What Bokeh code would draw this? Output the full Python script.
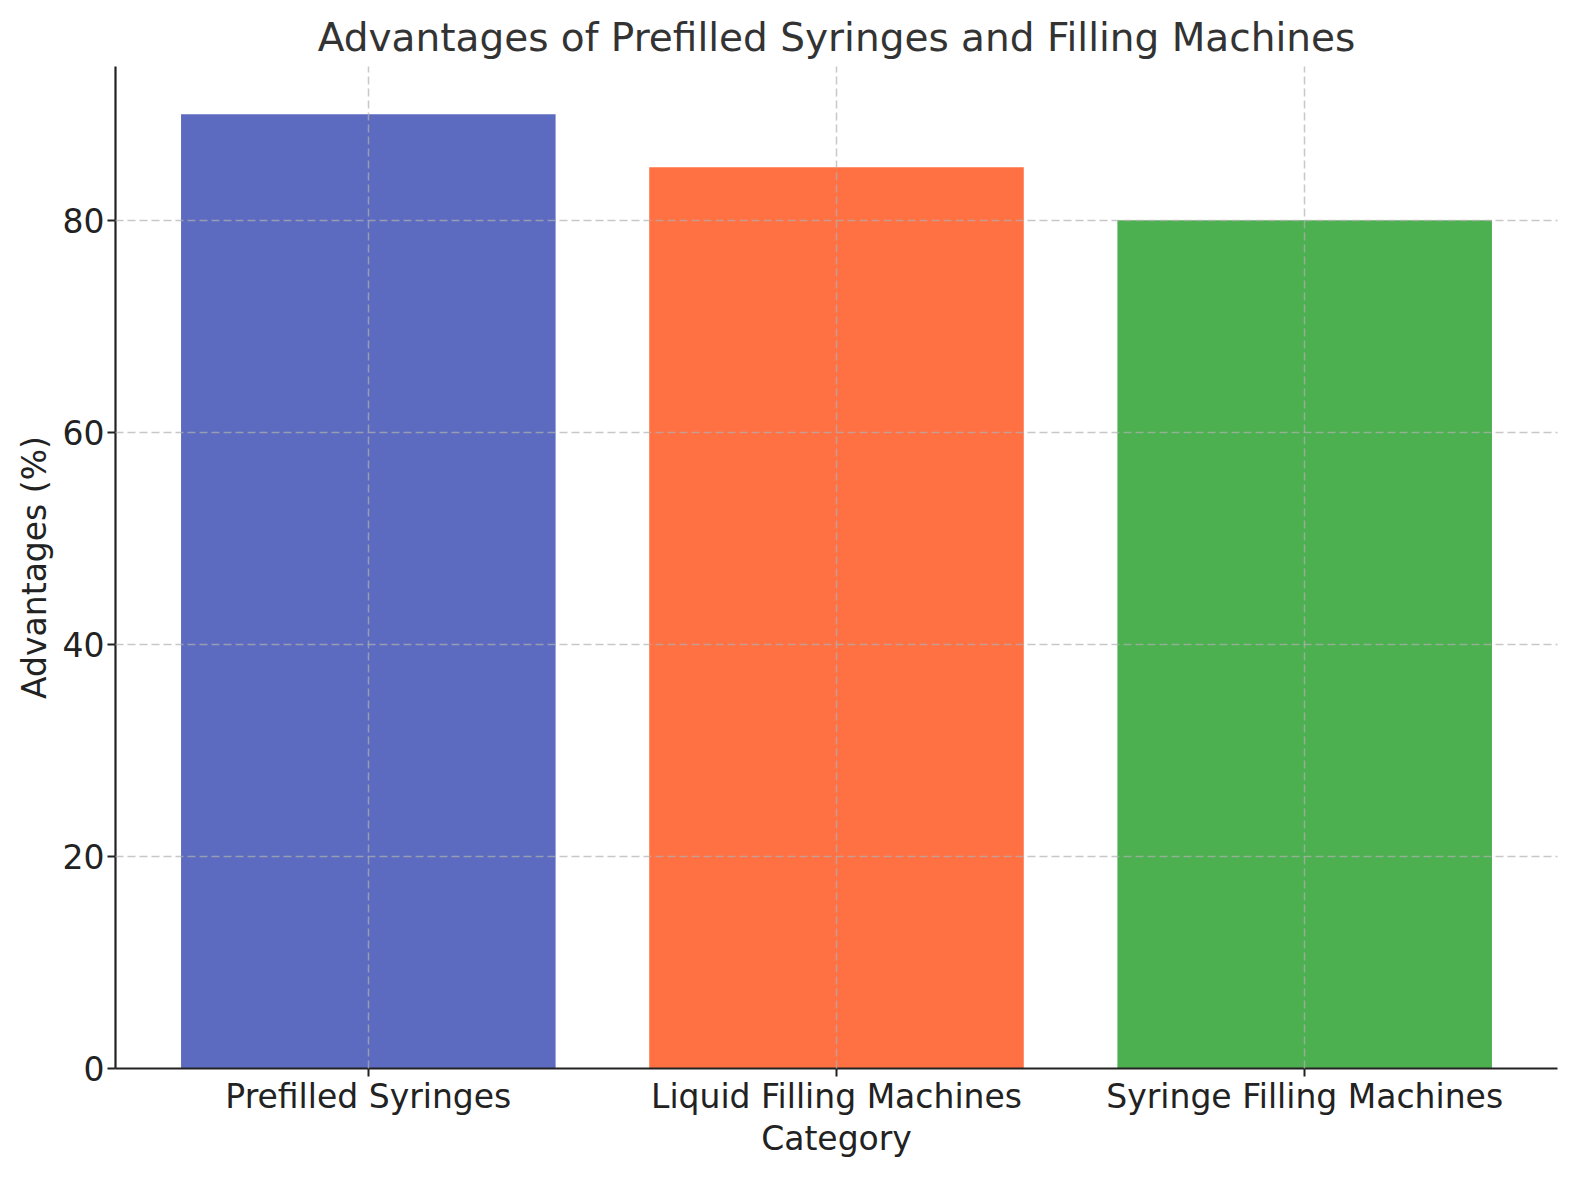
from bokeh.plotting import figure
from bokeh.embed import file_html
from bokeh.resources import INLINE
from bokeh.models import Range1d, FactorRange

categories = ["Prefilled Syringes", "Liquid Filling Machines", "Syringe Filling Machines"]
values = [90, 85, 80]
colors = ["#5c6bc0", "#ff7043", "#4caf50"]
y_ticks = [0, 20, 40, 60, 80]

FONT = "DejaVu Sans"

p = figure(x_range=FactorRange(*categories, range_padding=0.08 / 3, factor_padding=0),
           y_range=Range1d(0, 94.5),
           width=1560, height=1160, output_backend="svg", toolbar_location=None,
           title="Advantages of Prefilled Syringes and Filling Machines")
p.min_border_left = 115
p.min_border_right = 3
p.min_border_top = 66
p.min_border_bottom = 80
p.outline_line_color = None
p.background_fill_color = "white"
p.border_fill_color = "white"

p.vbar(x=categories, top=values, width=0.8, color=colors, line_color=None)

p.title.text_font = FONT
p.title.text_font_size = "39px"
p.title.text_font_style = "normal"
p.title.text_color = "#333333"
p.title.align = "center"
p.title.offset = 0
p.title.standoff = 13

for g in (p.xgrid, p.ygrid):
    g.grid_line_color = "#b0b0b0"
    g.grid_line_alpha = 0.7
    g.grid_line_width = 1.5
    g.grid_line_dash = "8 4"
    g.level = "overlay"

p.yaxis.ticker = y_ticks
for ax in (p.xaxis, p.yaxis):
    ax.axis_line_width = 2.2
    ax.axis_line_color = "#222222"
    ax.major_tick_line_color = "#222222"
    ax.major_tick_line_width = 2
    ax.major_tick_out = 8
    ax.major_tick_in = 0
    ax.minor_tick_line_color = None
    ax.major_label_text_font = FONT
    ax.major_label_text_font_size = "33px"
    ax.major_label_text_color = "#222222"
    ax.axis_label_text_font = FONT
    ax.axis_label_text_font_size = "33px"
    ax.axis_label_text_font_style = "normal"
    ax.axis_label_text_color = "#222222"

p.xaxis.major_label_standoff = 0
p.yaxis.major_label_standoff = 3
p.xaxis.axis_label = "Category"
p.yaxis.axis_label = "Advantages (%)"
p.xaxis.axis_label_standoff = 0
p.yaxis.axis_label_standoff = 6

open("out.html", "w").write(file_html(p, INLINE))
